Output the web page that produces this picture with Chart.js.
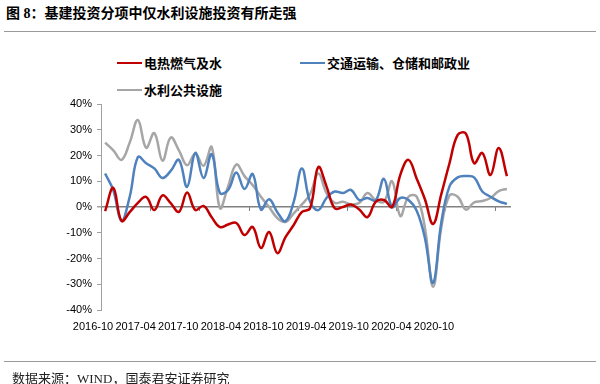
<!DOCTYPE html>
<html>
<head>
<meta charset="utf-8">
<script src="https://cdn.jsdelivr.net/npm/chart.js@4.4.0/dist/chart.umd.min.js"></script>
<style>
  body { margin: 0; background: #fff; width: 600px; height: 384px; position: relative; overflow: hidden; }
  #chart { position: absolute; left: 0; top: 0; }
  .title { position: absolute; left: 6px; top: 5px; font: bold 14px/18px "Liberation Serif", "Noto Sans CJK SC", serif; color: #000; }
  .rule { position: absolute; left: 4px; width: 592px; height: 0; border-top: 1.5px solid #9a9a9a; }
  .leg { position: absolute; display: flex; align-items: center; font: bold 13px/18px "Noto Sans CJK SC", sans-serif; color: #000; }
  .leg i { display: inline-block; width: 25px; height: 2.5px; margin-right: 2px; }
  .source { position: absolute; left: 12px; top: 370px; font: 13px/18px "Liberation Serif", "Noto Sans CJK SC", serif; color: #222; }
</style>
</head>
<body>
<div class="title">图 8：基建投资分项中仅水利设施投资有所走强</div>
<div class="rule" style="top:31px"></div>
<div class="leg" style="left:117px;top:54px"><i style="background:#c00000"></i>电热燃气及水</div>
<div class="leg" style="left:300px;top:54px"><i style="background:#4f81bd"></i>交通运输、仓储和邮政业</div>
<div class="leg" style="left:117px;top:81px"><i style="background:#a6a6a6"></i>水利公共设施</div>
<canvas id="chart" width="600" height="384"></canvas>
<div class="rule" style="top:361px"></div>
<div class="source">数据来源：WIND，国泰君安证券研究</div>

<script>
// 月度数据 2016-10 至 2020-11（%）
const months = [
  '2016-10', '2016-11', '2016-12',
  '2017-01', '2017-02', '2017-03', '2017-04', '2017-05', '2017-06', '2017-07', '2017-08', '2017-09', '2017-10', '2017-11', '2017-12',
  '2018-01', '2018-02', '2018-03', '2018-04', '2018-05', '2018-06', '2018-07', '2018-08', '2018-09', '2018-10', '2018-11', '2018-12',
  '2019-01', '2019-02', '2019-03', '2019-04', '2019-05', '2019-06', '2019-07', '2019-08', '2019-09', '2019-10', '2019-11', '2019-12',
  '2020-01', '2020-02', '2020-03', '2020-04', '2020-05', '2020-06', '2020-07', '2020-08', '2020-09', '2020-10', '2020-11'
];
const tickLabels = ['2016-10', '2017-04', '2017-10', '2018-04', '2018-10', '2019-04', '2019-10', '2020-04', '2020-10'];

const power = [
  -1.6, 7.4, -5.4, -2, 1.6, 3.9, -1.2, 4.5, 1.5, -1.9,
  5.6, -1.2, 0.4, -4, -7.8, -6.8, -6.2, -10.9, -7.8, -15.9,
  -9.7, -17.9, -11.7, -7, -1.9, -0.5, 15.5, 8, -0.5, 0,
  1, -1, -3.9, 2, 2.7, 0, 12.5, 18.3, 11, 3,
  -6.6, 5, 17, 28, 28.5, 17, 21, 12.4, 22.9, 12
];
const transport = [
  13, 6.5, -5.4, 4, 19.4, 17, 15, 11.3, 14, 18.3,
  7.8, 21, 11.3, 20.5, 5.4, 6.6, 13.4, 7, 12.8, -1,
  3, -2, -5.5, 2, 15, 2, -1.2, 3.5, 6, 5.4,
  6.6, 2.7, 3.5, 2.5, 10.9, 0, 3.5, 2.7, -1.5, -12,
  -29.5, -6, 8, 11.5, 12, 11.5, 6, 4, 2.2, 1.2
];
const water = [
  25, 22, 18.3, 25, 33.8, 23, 28.7, 18, 27, 22,
  16.2, 20.8, 16, 23.3, -0.4, 8, 16.5, 12, 8.5, 4,
  0, -4.3, -5.8, -2.5, 1, 5, 13, 5.4, 1.6, 2,
  1, 1.6, 5.4, 2.7, 2, 10, -3.5, 4, 4, -8,
  -31, -8, 4.5, 4, -1, 1.8, 2.3, 3.5, 6.2, 7
];

const axisFont = { family: '"Liberation Sans", Arial, sans-serif', size: 11 };

// 零轴上的刻度线（每6个月）
const zeroTicks = {
  id: 'zeroTicks',
  beforeDatasetsDraw(chart) {
    const { ctx, scales: { x, y } } = chart;
    const y0 = y.getPixelForValue(0);
    const half = (x.getPixelForValue(1) - x.getPixelForValue(0)) / 2;
    ctx.save();
    ctx.strokeStyle = '#808080';
    ctx.lineWidth = 1;
    for (let i = 0; i < months.length; i += 6) {
      const px = Math.round(x.getPixelForValue(i) - half) + 0.5;
      ctx.beginPath();
      ctx.moveTo(px, y0);
      ctx.lineTo(px, y0 + 4);
      ctx.stroke();
    }
    ctx.restore();
  }
};

new Chart(document.getElementById('chart'), {
  type: 'line',
  data: {
    labels: months,
    datasets: [
      { label: '电热燃气及水', data: power, borderColor: '#c00000' },
      { label: '交通运输、仓储和邮政业', data: transport, borderColor: '#4f81bd' },
      { label: '水利公共设施', data: water, borderColor: '#a6a6a6' }
    ]
  },
  options: {
    responsive: false,
    animation: false,
    devicePixelRatio: 1,
    layout: { padding: { left: 61, right: 89, top: 104, bottom: 44 } },
    elements: {
      line: { borderWidth: 2.5, tension: 0.4 },
      point: { radius: 0 }
    },
    scales: {
      x: {
        type: 'category',
        offset: true,
        ticks: { display: false },
        grid: { display: false, drawTicks: false },
        border: { display: false },
        afterFit: s => { s.height = 0; }
      },
      x2: {
        type: 'linear',
        position: 'bottom',
        min: 0.1877,
        max: 9.806,
        afterBuildTicks: s => { s.ticks = tickLabels.map((_, i) => ({ value: i })); },
        afterFit: s => { s.height = 30; },
        grid: { display: false, drawTicks: false },
        border: { display: false },
        ticks: {
          autoSkip: false,
          maxRotation: 0,
          padding: 10,
          font: axisFont,
          color: '#000',
          callback: v => tickLabels[v]
        }
      },
      y: {
        min: -40,
        max: 40,
        afterFit: s => { s.width = 40; },
        ticks: {
          stepSize: 10,
          padding: 5,
          font: axisFont,
          color: '#000',
          callback: v => v + '%'
        },
        grid: {
          color: c => (c.tick && c.tick.value === 0 ? '#808080' : 'transparent'),
          lineWidth: c => (c.tick && c.tick.value === 0 ? 1.5 : 1),
          tickColor: '#a0a0a0',
          tickLength: 4
        },
        border: { color: '#a0a0a0', width: 1 }
      }
    },
    plugins: {
      legend: { display: false },
      tooltip: { enabled: false }
    }
  },
  plugins: [zeroTicks]
});
</script>
</body>
</html>
